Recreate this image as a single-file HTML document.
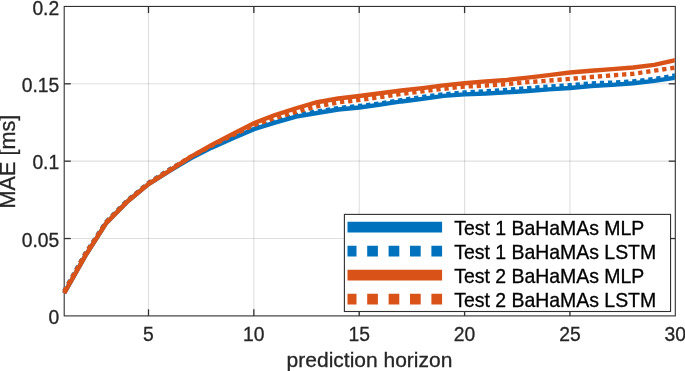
<!DOCTYPE html>
<html><head><meta charset="utf-8"><title>MAE vs prediction horizon</title>
<style>
html,body{margin:0;padding:0;background:#fff;}
body{width:685px;height:371px;overflow:hidden;}
svg{display:block;}
text{font-family:"Liberation Sans",Arial,Helvetica,sans-serif;fill:#262626;stroke:#262626;stroke-width:0.3px;}
.tk{font-size:19.3px;}
.lb{font-size:21.0px;}
.lg{font-size:19.45px;fill:#000;stroke:#000;}
</style></head><body>
<svg width="685" height="371" viewBox="0 0 685 371">
<rect x="0" y="0" width="685" height="371" fill="#fff"/>
<defs><clipPath id="ax"><rect x="0" y="0" width="674.80" height="371"/></clipPath></defs>

<line x1="148.49" y1="6.45" x2="148.49" y2="315.9" stroke="#262626" stroke-opacity="0.15" stroke-width="1.1"/>
<line x1="253.85" y1="6.45" x2="253.85" y2="315.9" stroke="#262626" stroke-opacity="0.15" stroke-width="1.1"/>
<line x1="359.21" y1="6.45" x2="359.21" y2="315.9" stroke="#262626" stroke-opacity="0.15" stroke-width="1.1"/>
<line x1="464.58" y1="6.45" x2="464.58" y2="315.9" stroke="#262626" stroke-opacity="0.15" stroke-width="1.1"/>
<line x1="569.94" y1="6.45" x2="569.94" y2="315.9" stroke="#262626" stroke-opacity="0.15" stroke-width="1.1"/>
<line x1="64.2" y1="238.54" x2="675.3" y2="238.54" stroke="#262626" stroke-opacity="0.15" stroke-width="1.1"/>
<line x1="64.2" y1="161.17" x2="675.3" y2="161.17" stroke="#262626" stroke-opacity="0.15" stroke-width="1.1"/>
<line x1="64.2" y1="83.81" x2="675.3" y2="83.81" stroke="#262626" stroke-opacity="0.15" stroke-width="1.1"/>
<line x1="148.49" y1="315.9" x2="148.49" y2="309.29999999999995" stroke="#303030" stroke-width="1.3"/>
<line x1="148.49" y1="6.45" x2="148.49" y2="13.05" stroke="#303030" stroke-width="1.3"/>
<line x1="253.85" y1="315.9" x2="253.85" y2="309.29999999999995" stroke="#303030" stroke-width="1.3"/>
<line x1="253.85" y1="6.45" x2="253.85" y2="13.05" stroke="#303030" stroke-width="1.3"/>
<line x1="359.21" y1="315.9" x2="359.21" y2="309.29999999999995" stroke="#303030" stroke-width="1.3"/>
<line x1="359.21" y1="6.45" x2="359.21" y2="13.05" stroke="#303030" stroke-width="1.3"/>
<line x1="464.58" y1="315.9" x2="464.58" y2="309.29999999999995" stroke="#303030" stroke-width="1.3"/>
<line x1="464.58" y1="6.45" x2="464.58" y2="13.05" stroke="#303030" stroke-width="1.3"/>
<line x1="569.94" y1="315.9" x2="569.94" y2="309.29999999999995" stroke="#303030" stroke-width="1.3"/>
<line x1="569.94" y1="6.45" x2="569.94" y2="13.05" stroke="#303030" stroke-width="1.3"/>
<line x1="64.2" y1="238.54" x2="70.8" y2="238.54" stroke="#303030" stroke-width="1.3"/>
<line x1="675.3" y1="238.54" x2="668.6999999999999" y2="238.54" stroke="#303030" stroke-width="1.3"/>
<line x1="64.2" y1="161.17" x2="70.8" y2="161.17" stroke="#303030" stroke-width="1.3"/>
<line x1="675.3" y1="161.17" x2="668.6999999999999" y2="161.17" stroke="#303030" stroke-width="1.3"/>
<line x1="64.2" y1="83.81" x2="70.8" y2="83.81" stroke="#303030" stroke-width="1.3"/>
<line x1="675.3" y1="83.81" x2="668.6999999999999" y2="83.81" stroke="#303030" stroke-width="1.3"/>
<rect x="64.2" y="6.45" width="611.0999999999999" height="309.45" fill="none" stroke="#303030" stroke-width="1.1"/>
<g clip-path="url(#ax)" fill="none" stroke-linejoin="round">
<path d="M64.20,293.24 L85.28,255.84 L106.35,222.92 L127.43,201.44 L148.50,184.13 L169.58,171.00 L190.66,158.32 L211.73,147.66 L232.81,138.23 L253.88,129.11 L274.96,122.62 L296.03,116.59 L317.11,113.04 L338.19,109.48 L359.26,107.48 L380.34,104.69 L401.41,101.45 L422.49,98.82 L443.57,95.88 L464.64,94.34 L485.72,93.57 L506.79,92.33 L527.87,90.94 L548.94,89.39 L570.02,88.00 L591.10,85.99 L612.17,84.91 L633.25,83.21 L654.32,80.89 L675.40,77.65" stroke="#0072BD" stroke-width="4.4"/>
<path d="M64.20,291.08 L85.28,253.68 L106.35,221.69 L127.43,200.51 L148.50,182.90 L169.58,169.45 L190.66,157.24 L211.73,146.42 L232.81,136.69 L253.88,127.72 L274.96,121.23 L296.03,115.20 L317.11,111.49 L338.19,108.09 L359.26,105.93 L380.34,103.46 L401.41,100.06 L422.49,96.97 L443.57,94.34 L464.64,92.48 L485.72,91.25 L506.79,89.86 L527.87,88.16 L548.94,86.61 L570.02,85.22 L591.10,83.37 L612.17,82.59 L633.25,81.36 L654.32,79.04 L675.40,75.48" stroke="#0072BD" stroke-width="4.4" stroke-dasharray="4.3 3.8"/>
<path d="M64.20,293.24 L85.28,255.84 L106.35,222.92 L127.43,201.44 L148.50,184.13 L169.58,170.69 L190.66,156.93 L211.73,144.88 L232.81,133.90 L253.88,123.24 L274.96,115.05 L296.03,108.25 L317.11,102.22 L338.19,98.51 L359.26,96.04 L380.34,93.26 L401.41,90.48 L422.49,88.16 L443.57,85.38 L464.64,83.21 L485.72,81.36 L506.79,79.97 L527.87,77.65 L548.94,75.17 L570.02,72.55 L591.10,70.69 L612.17,69.15 L633.25,67.45 L654.32,64.82 L675.40,60.18" stroke="#D95319" stroke-width="4.4"/>
<path d="M64.20,291.39 L85.28,253.99 L106.35,222.00 L127.43,200.82 L148.50,183.21 L169.58,169.76 L190.66,156.93 L211.73,145.65 L232.81,135.14 L253.88,125.09 L274.96,117.99 L296.03,111.80 L317.11,106.39 L338.19,102.38 L359.26,99.90 L380.34,97.12 L401.41,93.88 L422.49,91.40 L443.57,88.78 L464.64,86.61 L485.72,85.53 L506.79,84.14 L527.87,82.13 L548.94,80.58 L570.02,78.88 L591.10,77.03 L612.17,75.33 L633.25,73.78 L654.32,70.69 L675.40,67.60" stroke="#D95319" stroke-width="4.4" stroke-dasharray="4.3 3.8"/>
</g>
<text class="tk" x="148.49" y="340.8" text-anchor="middle">5</text>
<text class="tk" x="253.85" y="340.8" text-anchor="middle">10</text>
<text class="tk" x="359.21" y="340.8" text-anchor="middle">15</text>
<text class="tk" x="464.58" y="340.8" text-anchor="middle">20</text>
<text class="tk" x="569.94" y="340.8" text-anchor="middle">25</text>
<text class="tk" x="675.30" y="340.8" text-anchor="middle">30</text>
<text class="tk" x="59.2" y="324.20" text-anchor="end">0</text>
<text class="tk" x="59.2" y="246.84" text-anchor="end">0.05</text>
<text class="tk" x="59.2" y="169.47" text-anchor="end">0.1</text>
<text class="tk" x="59.2" y="92.11" text-anchor="end">0.15</text>
<text class="tk" x="59.2" y="14.75" text-anchor="end">0.2</text>
<text class="lb" x="369.5" y="366.5" text-anchor="middle">prediction horizon</text>
<text class="lb" style="font-size:21.6px" transform="translate(15.1,161.6) rotate(-90)" text-anchor="middle">MAE [ms]</text>
<rect x="344.4" y="214.4" width="326.15" height="97.1" fill="#fff" stroke="#303030" stroke-width="1.1"/>
<line x1="347.5" y1="227.2" x2="442.1" y2="227.2" stroke="#0072BD" stroke-width="10.7"/>
<text class="lg" x="454.2" y="234.7">Test 1 BaHaMAs MLP</text>
<line x1="347.5" y1="251.2" x2="442.1" y2="251.2" stroke="#0072BD" stroke-width="10.7" stroke-dasharray="10.7 10.7" stroke-dashoffset="1.7"/>
<text class="lg" x="454.2" y="258.7">Test 1 BaHaMAs LSTM</text>
<line x1="347.5" y1="275.2" x2="442.1" y2="275.2" stroke="#D95319" stroke-width="10.7"/>
<text class="lg" x="454.2" y="282.7">Test 2 BaHaMAs MLP</text>
<line x1="347.5" y1="299.2" x2="442.1" y2="299.2" stroke="#D95319" stroke-width="10.7" stroke-dasharray="10.7 10.7" stroke-dashoffset="1.7"/>
<text class="lg" x="454.2" y="306.7">Test 2 BaHaMAs LSTM</text>
</svg></body></html>
